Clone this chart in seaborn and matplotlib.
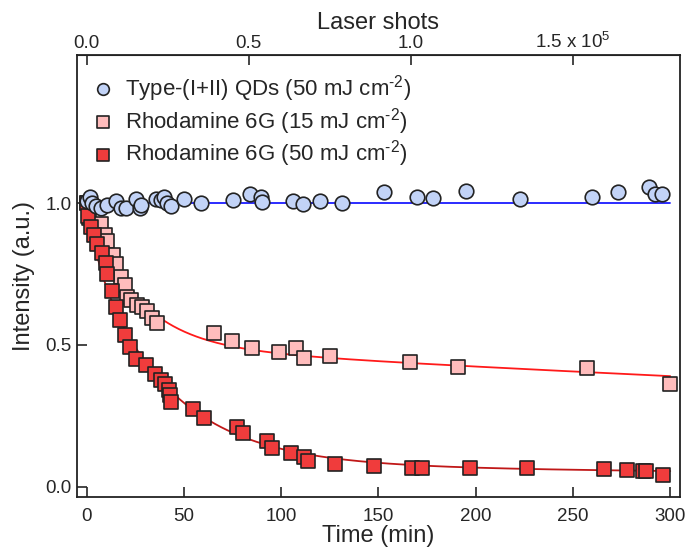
import numpy as np
import pandas as pd
import seaborn as sns
import matplotlib
matplotlib.use("Agg")
import matplotlib.pyplot as plt

# ---- data ----
qd_time = [0, 1.7, 2.9, 4.6, 7.2, 10.6, 14.9, 17.5, 20, 25.2, 27.4, 27.8, 35.5, 38,
           39.8, 41.5, 43.2, 50, 58.6, 75.4, 84, 89.8, 90.3, 106, 111, 120, 131,
           152.6, 169.8, 178, 195, 222.6, 259.6, 273.3, 289, 292, 296]
qd_int = [1.006, 1.021, 1.0, 0.988, 0.982, 0.994, 1.006, 0.982, 0.984, 1.014, 0.982,
          0.994, 1.014, 1.012, 1.02, 1.002, 0.988, 1.014, 1.002, 1.012, 1.032, 1.021,
          1.003, 1.009, 0.996, 1.008, 1.0, 1.039, 1.02, 1.018, 1.043, 1.015, 1.022,
          1.039, 1.056, 1.032, 1.033]

r15_time = [0, 1.2, 7.2, 9.4, 10.6, 13.5, 15.3, 17.5, 19.7, 20.9, 22.6, 26.1, 28.6,
            31.2, 33.4, 36.4, 65.5, 74.9, 85.2, 98.9, 107.5, 111.5, 125, 166, 191,
            257, 300]
r15_int = [1.0, 0.947, 0.926, 0.888, 0.865, 0.818, 0.785, 0.738, 0.712, 0.670, 0.659,
           0.641, 0.632, 0.618, 0.596, 0.577, 0.543, 0.514, 0.488, 0.476, 0.488, 0.455,
           0.461, 0.439, 0.421, 0.420, 0.361]

r50_time = [0, 0.5, 2.1, 3.8, 5.5, 8.1, 9.8, 10.6, 13.2, 14.9, 17.2, 19.6, 22.2, 25.2,
            30.5, 35.2, 38, 40, 42.3, 42.9, 43.2, 54.7, 60.3, 77.2, 80.6, 92.9, 95.5,
            104.9, 111.8, 113.8, 127.7, 147.8, 167, 172.2, 197.2, 226.2, 265.8, 277.6,
            285.9, 287.6, 296.5]
r50_int = [1.0, 0.953, 0.917, 0.888, 0.855, 0.823, 0.788, 0.749, 0.690, 0.635, 0.588,
           0.535, 0.491, 0.452, 0.429, 0.397, 0.377, 0.362, 0.341, 0.324, 0.300, 0.274,
           0.241, 0.212, 0.191, 0.161, 0.135, 0.118, 0.104, 0.090, 0.082, 0.074, 0.067,
           0.065, 0.067, 0.065, 0.061, 0.059, 0.056, 0.056, 0.041]

# exponential fit parameters (amplitude, tau in min)
qd_fit = [(1.0, np.inf)]
r15_fit = [(0.5, 25.0), (0.5, 1207.0)]
r50_fit = [(0.15, 6.0), (0.77, 40.0), (0.08, 800.0)]

shots_per_min = 600.0  # 10 Hz

legend_labels = [r"Type-(I+II) QDs (50 mJ cm$^{\text{-2}}$)",
                 r"Rhodamine 6G (15 mJ cm$^{\text{-2}}$)",
                 r"Rhodamine 6G (50 mJ cm$^{\text{-2}}$)"]


def fit_curve(params, t):
    return sum(a * np.exp(-t / tau) for a, tau in params)


sns.set_style("ticks")
plt.rcParams["font.family"] = ["Liberation Sans", "DejaVu Sans"]
plt.rcParams["mathtext.fontset"] = "custom"
plt.rcParams["mathtext.rm"] = "Liberation Sans"
plt.rcParams["mathtext.it"] = "Liberation Sans"
plt.rcParams["xtick.labelsize"] = 13.5
plt.rcParams["ytick.labelsize"] = 13.5

fig = plt.figure(figsize=(6.86, 5.47), dpi=100)
ax = fig.add_axes([0.1122, 0.0914, 0.879, 0.8081])

t_fit = np.linspace(0, 300, 400)
sns.lineplot(x=t_fit, y=fit_curve(qd_fit, t_fit), color="#1a1aff", lw=1.3, ax=ax, zorder=1)
sns.lineplot(x=t_fit, y=fit_curve(r15_fit, t_fit), color="#ff1a1a", lw=1.3, ax=ax, zorder=1)
sns.lineplot(x=t_fit, y=fit_curve(r50_fit, t_fit), color="#c01818", lw=1.3, ax=ax, zorder=1)

sns.scatterplot(x=r15_time, y=r15_int, marker="s", s=100, color="#ffbcbc",
                edgecolor="#222222", linewidth=1.2, ax=ax, zorder=3, label=legend_labels[1])
sns.scatterplot(x=r50_time, y=r50_int, marker="s", s=100, color="#f03c3c",
                edgecolor="#222222", linewidth=1.2, ax=ax, zorder=4, label=legend_labels[2])
sns.scatterplot(x=qd_time, y=qd_int, marker="o", s=110, color="#c2d3f7",
                edgecolor="#222222", linewidth=1.2, ax=ax, zorder=5, label=legend_labels[0])

ax.set_xlim(-5, 305)
ax.set_ylim(-0.036, 1.522)
ax.set_xticks([0, 50, 100, 150, 200, 250, 300])
ax.set_yticks([0.0, 0.5, 1.0])
ax.set_yticklabels(["0.0", "0.5", "1.0"])
ax.set_xlabel("Time (min)", fontsize=17, labelpad=0)
ax.set_ylabel("Intensity (a.u.)", fontsize=17, labelpad=7)
ax.tick_params(axis="both", direction="in", length=7, width=1.2, labelsize=13.5)
ax.tick_params(axis="x", pad=8)
ax.tick_params(axis="y", pad=4)

for sp in ax.spines.values():
    sp.set_linewidth(1.3)
    sp.set_color("#222222")

top = ax.secondary_xaxis("top", functions=(lambda t: t * shots_per_min / 1e5,
                                           lambda s: s * 1e5 / shots_per_min))
top.set_xticks([0.0, 0.5, 1.0, 1.5])
top.set_xticklabels(["0.0", "0.5", "1.0", "1.5 x 10$^{5}$"])
top.tick_params(direction="in", length=7, width=1.2, pad=2, labelsize=13.5)
top.set_xlabel("Laser shots", fontsize=17, labelpad=2.5)

handles, labels = ax.get_legend_handles_labels()
order = [labels.index(l) for l in legend_labels]
ax.legend([handles[i] for i in order], [labels[i] for i in order],
          loc="upper left", frameon=False, fontsize=16, handletextpad=0.3,
          handlelength=1.4, labelspacing=0.08, borderaxespad=0.05, markerscale=0.8,
          bbox_to_anchor=(0.0, 0.982))

fig.savefig("out.png", dpi=100)
